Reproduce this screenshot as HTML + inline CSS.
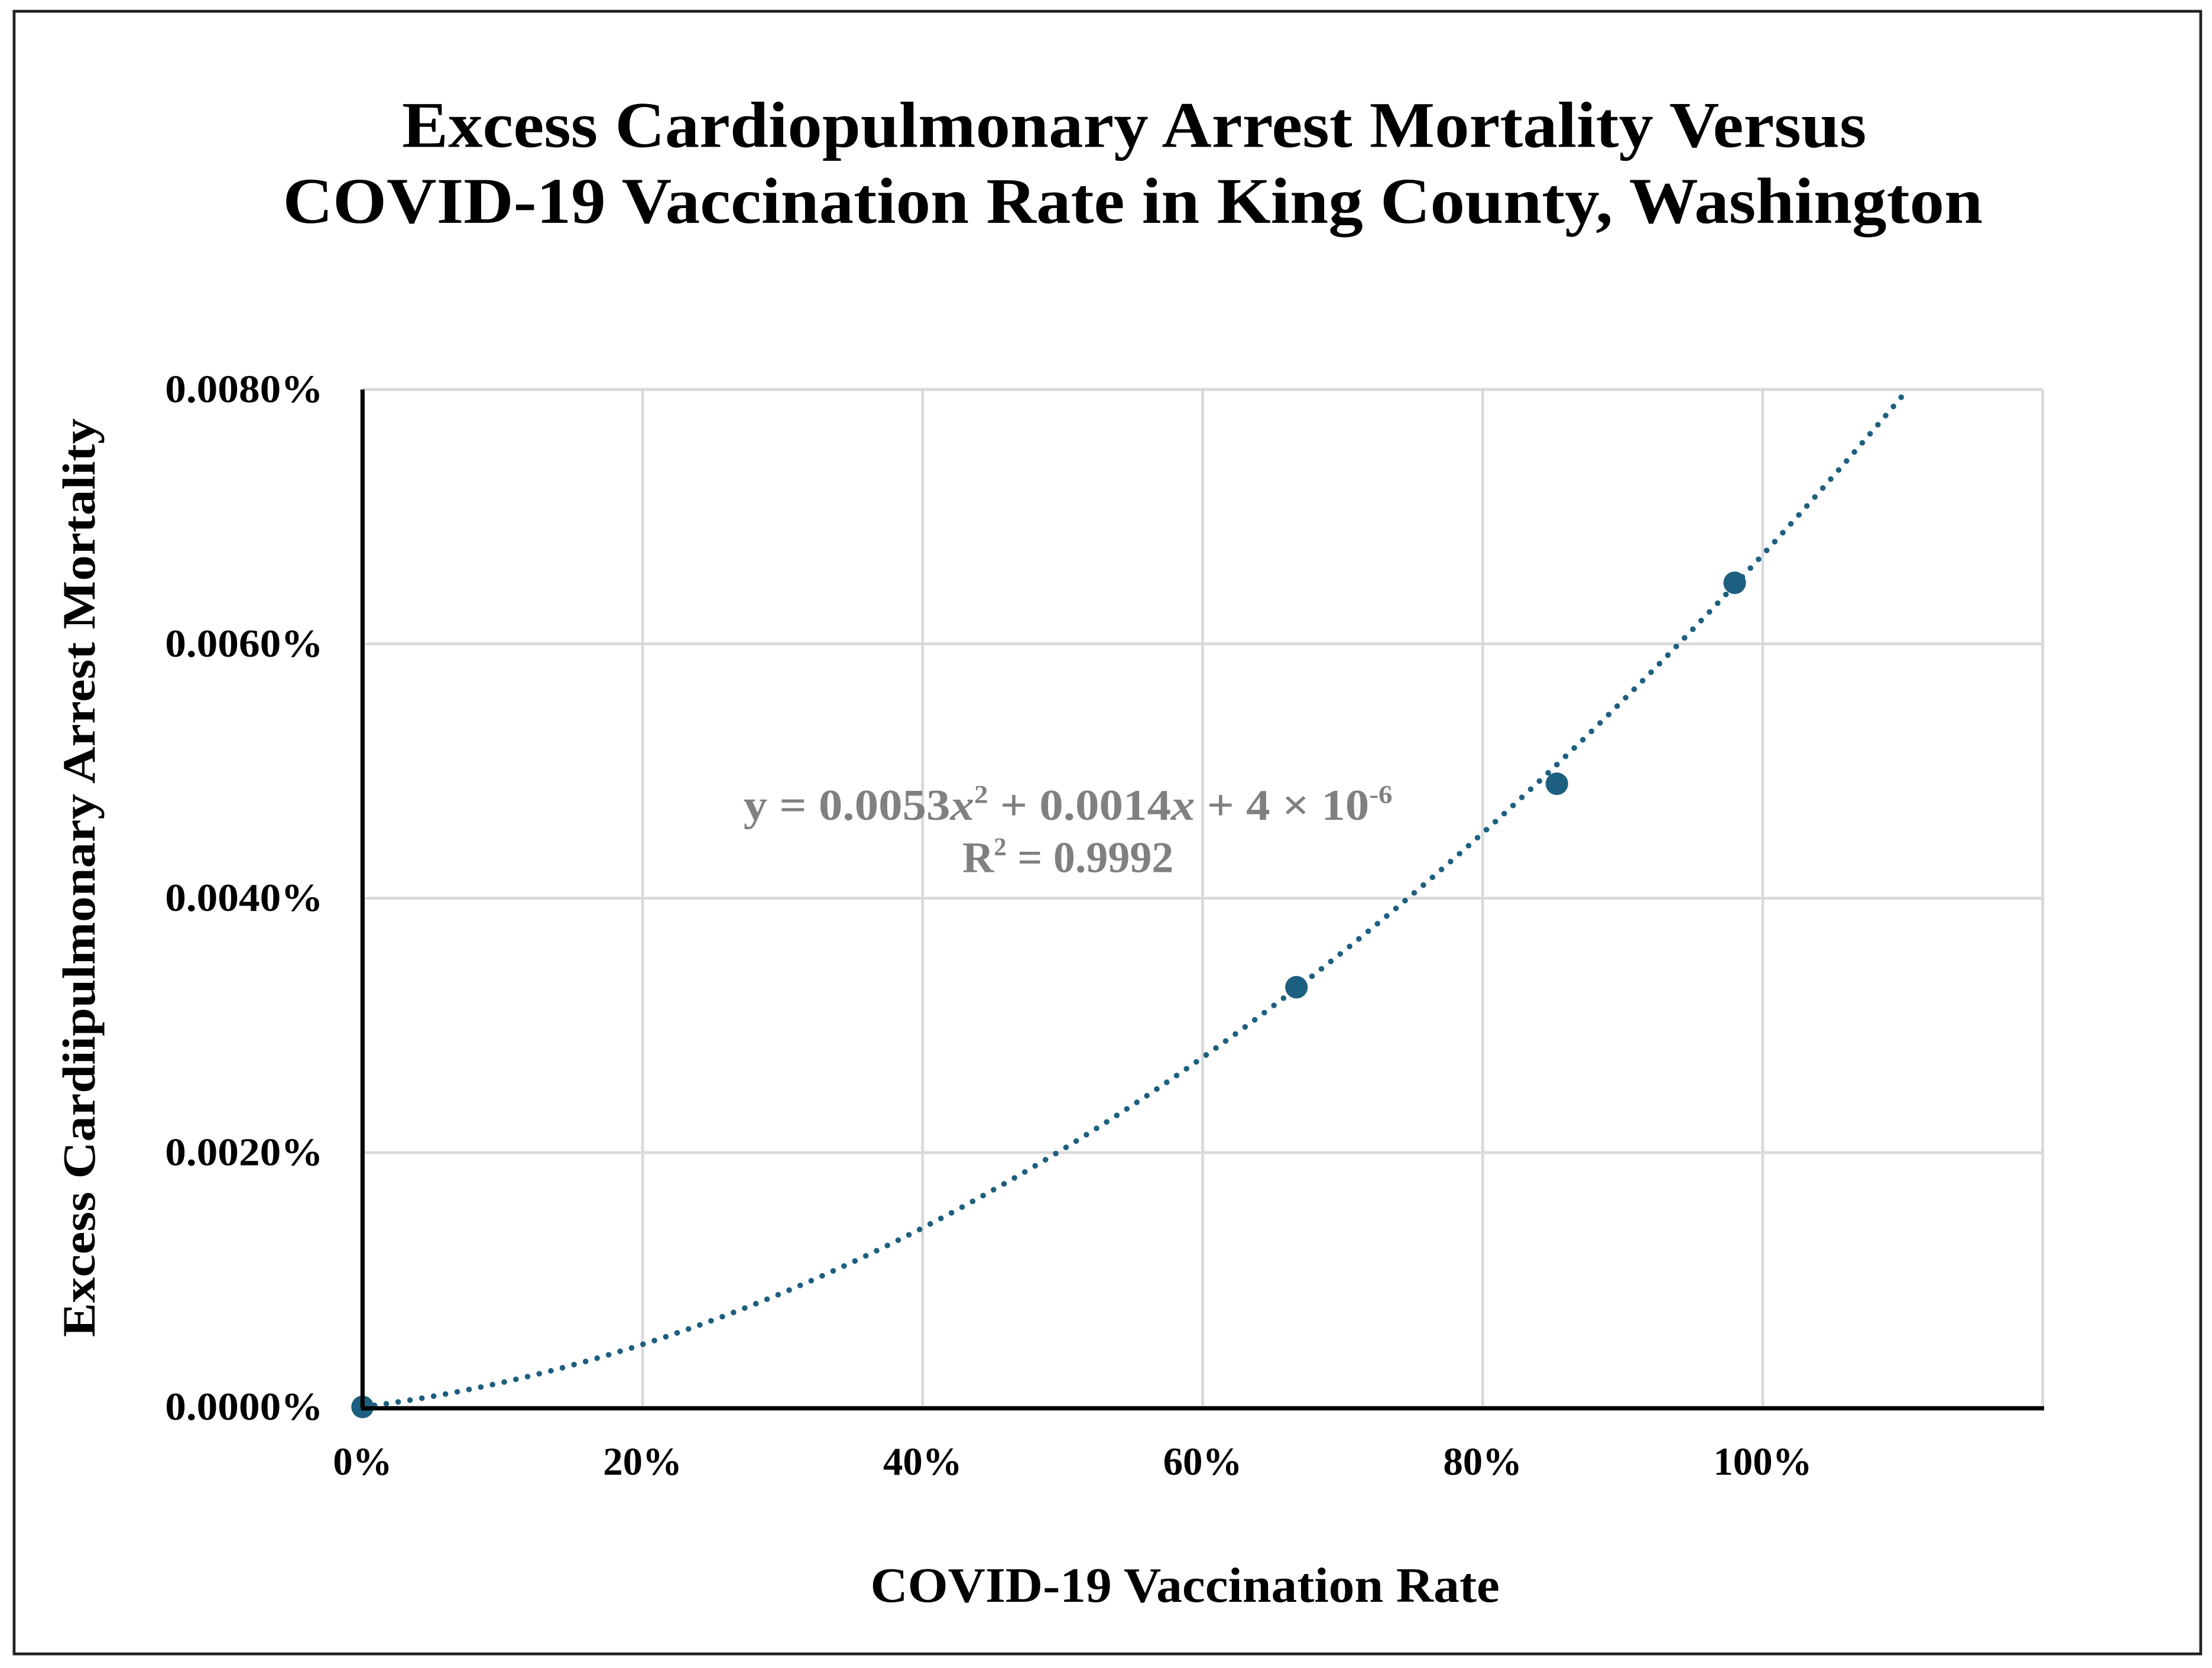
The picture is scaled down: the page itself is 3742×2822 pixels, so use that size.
<!DOCTYPE html>
<html><head><meta charset="utf-8"><style>
html,body{margin:0;padding:0;background:#fff;}
svg{display:block;}
text{font-family:"Liberation Serif",serif;font-weight:bold;}
</style></head><body>
<svg id="chart" width="3742" height="2822" viewBox="0 0 1568 1182" preserveAspectRatio="none" xmlns="http://www.w3.org/2000/svg">
<rect x="10" y="8" width="1550" height="1164" fill="#fff" stroke="#222" stroke-width="2"/>
<text x="804" y="104" font-size="46" text-anchor="middle" textLength="1038" lengthAdjust="spacingAndGlyphs">Excess Cardiopulmonary Arrest Mortality Versus</text>
<text x="803" y="158" font-size="46" text-anchor="middle" textLength="1205" lengthAdjust="spacingAndGlyphs">COVID-19 Vaccination Rate in King County, Washington</text>
<g id="grid"></g>
<g id="ticks"></g>
<path id="trend" fill="none" stroke="#1d5f80" stroke-width="4" stroke-linecap="round" stroke-dasharray="0 8.5"/>
<g id="points"></g>
<line x1="257" y1="276" x2="257" y2="998" stroke="#000" stroke-width="3"/>
<line x1="256" y1="998" x2="1449" y2="998" stroke="#000" stroke-width="3"/>
<text x="757" y="581" font-size="31" fill="#808080" text-anchor="middle" textLength="460" lengthAdjust="spacingAndGlyphs">y = 0.0053<tspan font-style="italic">x</tspan><tspan font-size="18" dy="-12">2</tspan><tspan dy="12"> + 0.0014</tspan><tspan font-style="italic">x</tspan> + 4 × 10<tspan font-size="18" dy="-12">-6</tspan></text>
<text x="757" y="618" font-size="31" fill="#808080" text-anchor="middle">R<tspan font-size="18" dy="-12">2</tspan><tspan dy="12"> = 0.9992</tspan></text>
<text x="840" y="1135" font-size="35" text-anchor="middle" textLength="446" lengthAdjust="spacingAndGlyphs">COVID-19 Vaccination Rate</text>
<text transform="translate(67,622) rotate(-90)" font-size="33" text-anchor="middle" textLength="651" lengthAdjust="spacingAndGlyphs">Excess Cardiipulmonary Arrest Mortality</text>
</svg>
<script>
const xTicks=[0,0.2,0.4,0.6,0.8,1.0,1.2];
const xTickLabels=["0%","20%","40%","60%","80%","100%",""];
const yTicks=[0,0.002,0.004,0.006,0.008];
const yTickLabels=["0.0000%","0.0020%","0.0040%","0.0060%","0.0080%"];
const vaxRate=[0,0.667,0.853,0.98];
const mortality=[0,0.0033,0.0049,0.00648];
const fitCoef=[0.0053,0.0014,0];
const NS="http://www.w3.org/2000/svg";
const X=v=>257+v*(1448-257)/1.2;
const Y=v=>997-v*(997-276)/0.008;
const grid=document.getElementById('grid'),ticks=document.getElementById('ticks');
function mk(tag,attrs,parent){const e=document.createElementNS(NS,tag);for(const k in attrs)e.setAttribute(k,attrs[k]);parent.appendChild(e);return e;}
xTicks.forEach((v,i)=>{
 const l=mk('line',{x1:X(v),x2:X(v),y1:Y(0.008),y2:Y(0),stroke:'#d9d9d9','stroke-width':2},grid);
 
 
 if(xTickLabels[i]){const t=mk('text',{x:X(v),y:1045,'font-size':28,'text-anchor':'middle'},ticks);t.textContent=xTickLabels[i];
 
 }
});
yTicks.forEach((v,i)=>{
 const l=mk('line',{x1:X(0),x2:X(1.2),y1:Y(v),y2:Y(v),stroke:'#d9d9d9','stroke-width':2},grid);
 
 
 const t=mk('text',{x:229,y:Y(v)+9,'font-size':28,'text-anchor':'end',textLength:112,lengthAdjust:'spacingAndGlyphs'},ticks);t.textContent=yTickLabels[i];
 
 
});
let d='';
for(let x=0;x<=1.2;x+=0.002){const y=fitCoef[0]*x*x+fitCoef[1]*x+fitCoef[2];if(y>0.00803)break;d+=(d?'L':'M')+X(x).toFixed(2)+' '+Y(y).toFixed(2);}
document.getElementById('trend').setAttribute('d',d);
const pts=document.getElementById('points');
vaxRate.forEach((v,i)=>{
 const c=mk('circle',{cx:X(v),cy:Y(mortality[i]),r:8,fill:'#1d5f80'},pts);
 
 
});
</script>
</body></html>
